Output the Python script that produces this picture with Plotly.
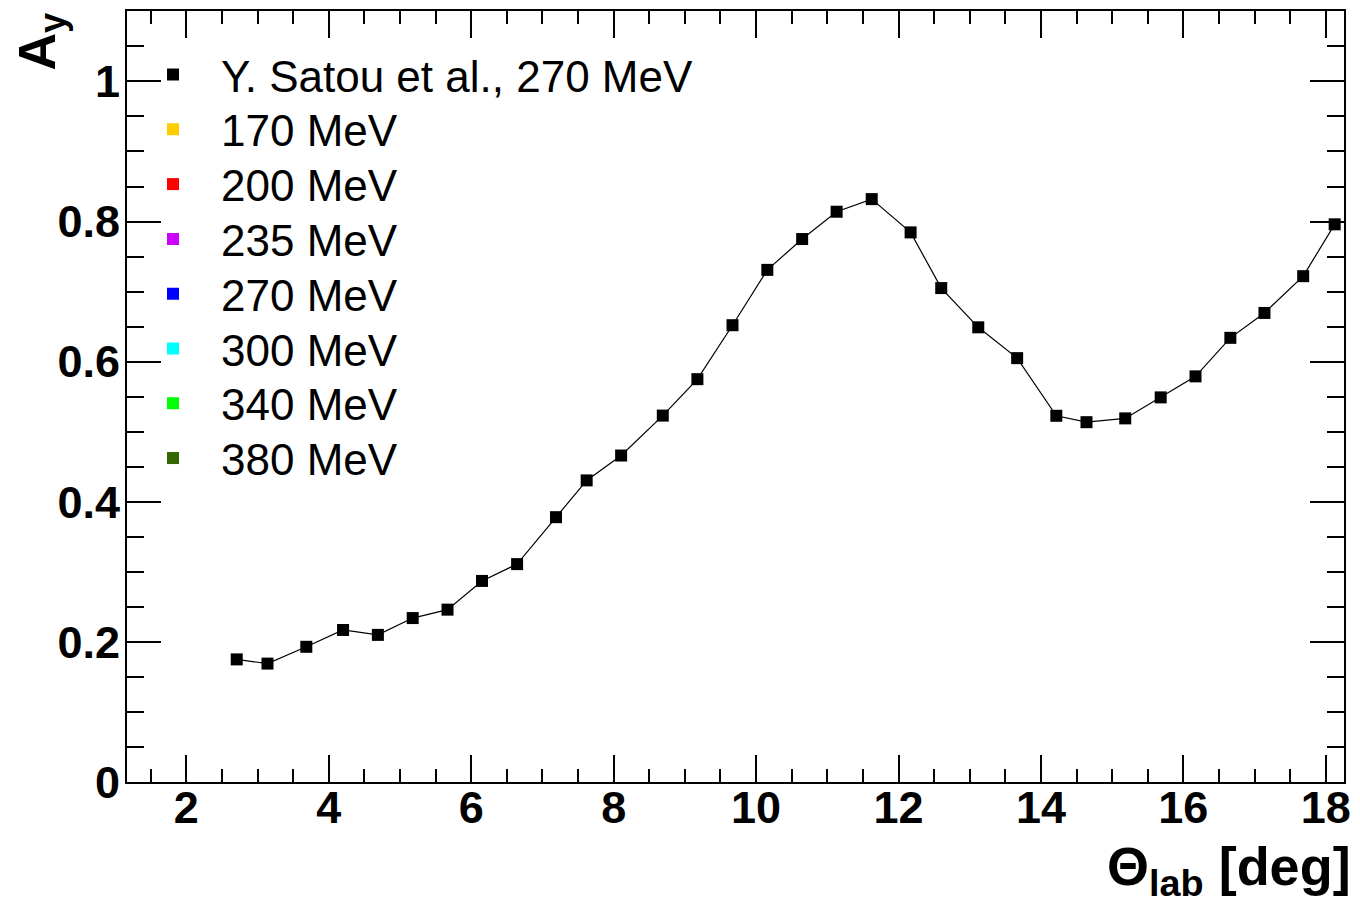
import plotly.graph_objects as go

theta = [2.707, 3.139, 3.684, 4.20, 4.689, 5.178, 5.667, 6.151, 6.644, 7.19,
         7.621, 8.105, 8.69, 9.176, 9.669, 10.158, 10.647, 11.131, 11.624, 12.17,
         12.60, 13.12, 13.666, 14.216, 14.64, 15.184, 15.682, 16.171, 16.66, 17.139,
         17.683, 18.125]
ay = [0.175, 0.169, 0.193, 0.217, 0.210, 0.234, 0.246, 0.287, 0.311, 0.378,
      0.4305, 0.466, 0.523, 0.575, 0.652, 0.731, 0.775, 0.814, 0.832, 0.7845,
      0.705, 0.649, 0.605, 0.5227, 0.5136, 0.519, 0.549, 0.579, 0.634, 0.6695,
      0.722, 0.796]

data_label = "Y. Satou et al., 270 MeV"
energies = ["170 MeV", "200 MeV", "235 MeV", "270 MeV", "300 MeV", "340 MeV", "380 MeV"]
colors = ["#ffcc00", "#ff0000", "#cc00ff", "#0000ff", "#00ffff", "#00ff00", "#336600"]

W, H = 1360, 907
ML, MR, MT, MB = 127, 9, 10, 125
PW, PH = W - ML - MR, H - MT - MB


def px2x(px):
    return (px - ML) / PW


def px2y(py):
    return (H - MB - py) / PH


font_family = "Liberation Sans, Arial, Helvetica, sans-serif"
legend_font = dict(size=44, family=font_family, color="black")

fig = go.Figure()
fig.add_trace(go.Scatter(x=theta, y=ay, mode="lines", line=dict(color="black", width=1.2),
                         showlegend=False, hoverinfo="skip"))

names = [data_label] + energies
cols = ["black"] + colors
legends = {}
row0, row_step = 74, 54.86
for i, (n, c) in enumerate(zip(names, cols)):
    lname = "legend" if i == 0 else f"legend{i + 1}"
    if i == 0:
        fig.add_trace(go.Scatter(x=theta, y=ay, mode="markers", name=n, legend=lname,
                                 marker=dict(symbol="square", size=12, color=c)))
    else:
        fig.add_trace(go.Scatter(x=[None], y=[None], mode="markers", name=n, legend=lname,
                                 marker=dict(symbol="square", size=12, color=c)))
    legends[lname] = dict(x=px2x(125), y=px2y(row0 + i * row_step), xanchor="left",
                          yanchor="middle", xref="paper", yref="paper",
                          bgcolor="rgba(0,0,0,0)", borderwidth=0,
                          font=legend_font, itemwidth=86)

fig.update_layout(
    width=W, height=H,
    margin=dict(l=ML, r=MR, t=MT, b=MB),
    paper_bgcolor="white", plot_bgcolor="white",
    font=dict(family=font_family, color="black"),
    showlegend=True,
    xaxis=dict(range=[1.166, 18.256], showgrid=False, zeroline=False,
               showline=True, linecolor="black", linewidth=2, mirror="ticks",
               ticks="inside", ticklen=27, tickwidth=2, tickcolor="black",
               dtick=2, tick0=0,
               tickfont=dict(size=45, family=font_family, color="black", weight="bold"),
               ticklabelstandoff=-15,
               minor=dict(ticks="inside", ticklen=13, tickwidth=2, tickcolor="black", dtick=0.5)),
    yaxis=dict(range=[0, 1.1005], showgrid=False, zeroline=False,
               showline=True, linecolor="black", linewidth=2, mirror="ticks",
               ticks="inside", ticklen=34, tickwidth=2, tickcolor="black",
               dtick=0.2, tick0=0, tickformat="~g",
               tickfont=dict(size=45, family=font_family, color="black", weight="bold"),
               ticklabelstandoff=-4,
               minor=dict(ticks="inside", ticklen=17, tickwidth=2, tickcolor="black", dtick=0.05)),
)
fig.update_layout(**legends)

fig.add_annotation(text="A<sub>y</sub>", textangle=-90, xref="paper", yref="paper",
                   x=px2x(40), y=px2y(40), xanchor="center", yanchor="middle", showarrow=False,
                   font=dict(size=52, family=font_family, color="black", weight="bold"))
fig.add_annotation(text="Θ<sub>lab</sub> [deg]", xref="paper", yref="paper",
                   x=px2x(1360), y=px2y(834), xanchor="right", yanchor="top", showarrow=False,
                   font=dict(size=54, family=font_family, color="black", weight="bold"))

fig.write_html("out.html")
